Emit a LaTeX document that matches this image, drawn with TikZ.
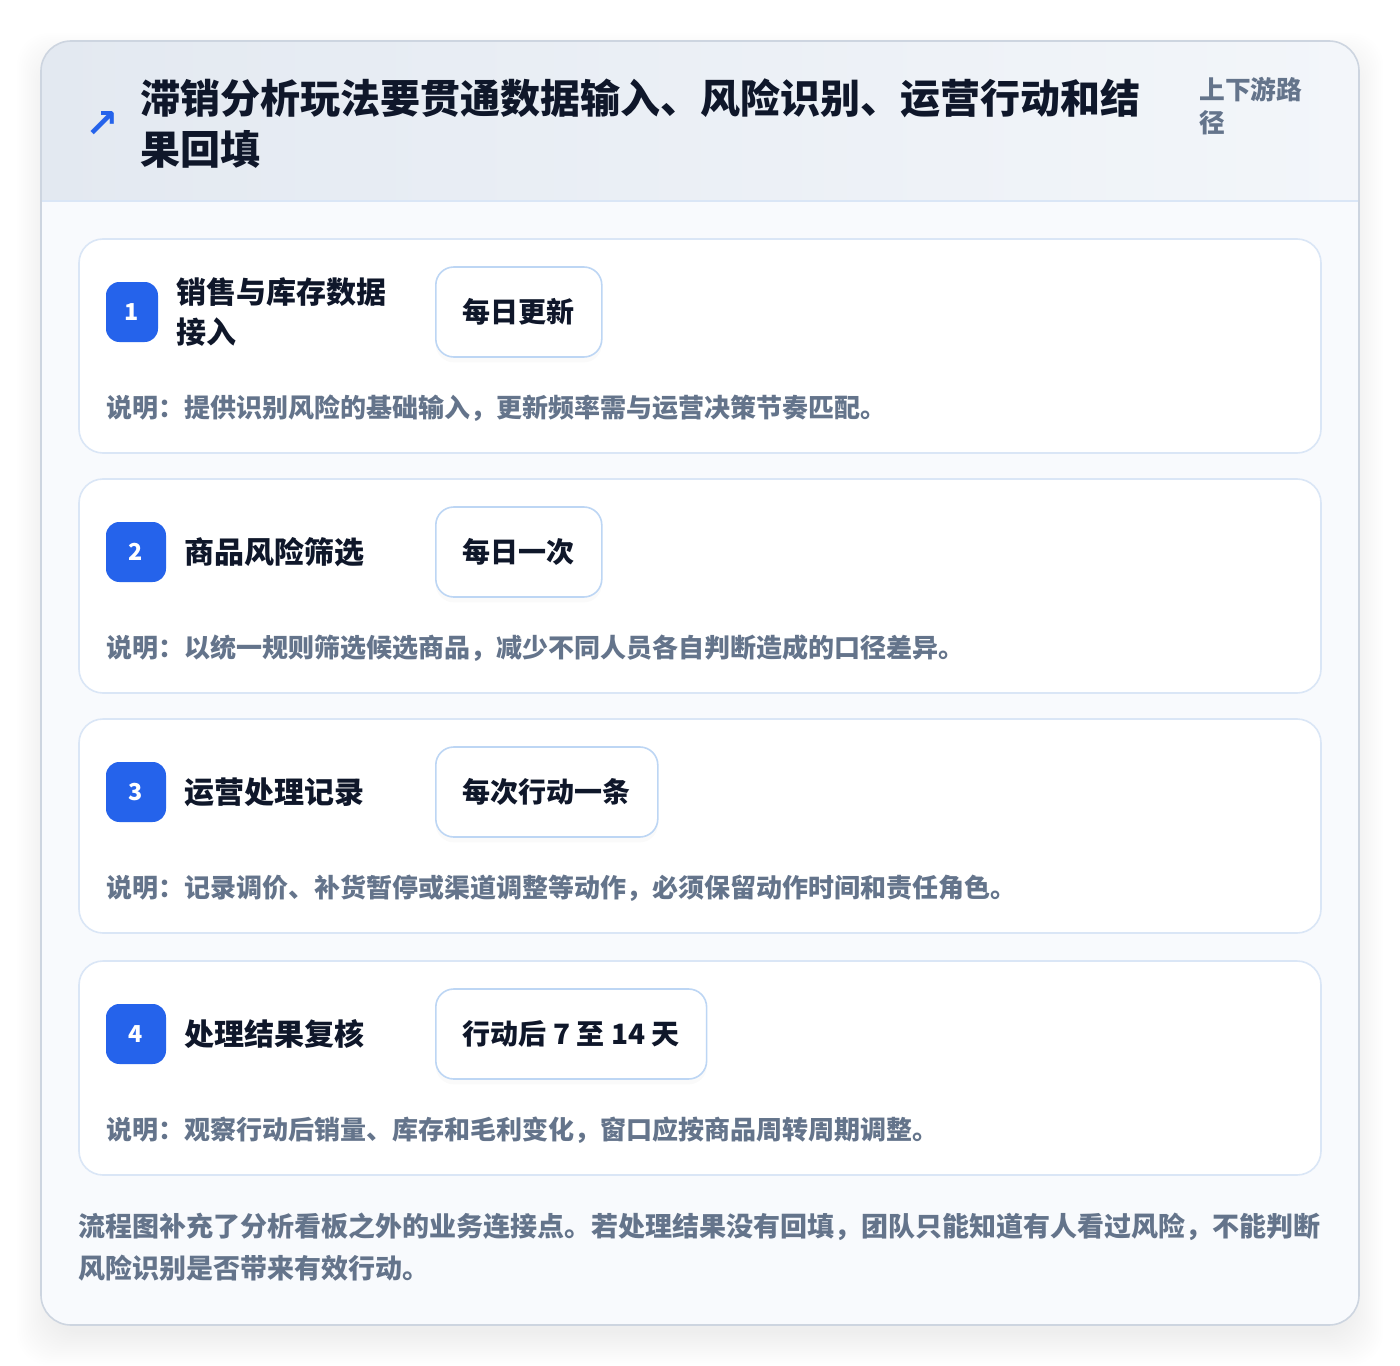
\documentclass[tikz,border=0pt]{standalone}
\usepackage{fontspec}
\setmainfont{Noto Sans CJK SC}
\newfontfamily\symfont{DejaVu Sans}
\usetikzlibrary{shadows,positioning}
\definecolor{accent}{HTML}{2563EB}
\definecolor{ink}{HTML}{0F172A}
\definecolor{muted}{HTML}{64748B}
\definecolor{cardline}{HTML}{DAE6F6}
\definecolor{tagline}{HTML}{BDD6F4}
\definecolor{frame}{HTML}{CDD5E0}
\definecolor{panel}{HTML}{F8FAFD}
\definecolor{headl}{HTML}{E3E9F1}
\definecolor{headr}{HTML}{F3F6FA}

\begin{document}
\begin{tikzpicture}[x=0.75pt, y=-0.75pt, card/.style = {shape=rectangle, draw=cardline, line width=1.2pt, fill=white, rounded corners=18pt, minimum width=931.5pt, minimum height=160.5pt}, badge/.style = {shape=rectangle, fill=accent, text=white, rounded corners=10pt, minimum height=45pt, inner sep=0pt, font=\fontsize{17.5}{17.5}\selectfont\bfseries}, steptitle/.style = {inner sep=0pt, text width=240pt, align=left, text=ink, font=\fontsize{22.5}{30}\selectfont\bfseries}, tagbox/.style = {shape=rectangle, draw=tagline, line width=1.2pt, fill=white, rounded corners=13.5pt, minimum height=67.5pt, inner xsep=20.25pt, text=ink, font=\fontsize{21}{21}\selectfont\bfseries, drop shadow={shadow xshift=0pt, shadow yshift=-4pt, opacity=0.04}}, note/.style = {anchor=west, inner sep=0pt, text=muted, font=\fontsize{19.5}{19.5}\selectfont\bfseries}]
	\fill[white] (0,0) rectangle (1400,1366);
	\useasboundingbox (0,0) rectangle (1400,1366);
	\foreach \s in {-8,-6,...,24}
		\fill[black, opacity=0.005, rounded corners=24pt] (41-\s,57-\s) rectangle (1359+\s,1341+\s);
	\fill[panel, rounded corners=22.5pt] (41,41) rectangle (1359,1325);
	\fill[left color=headl, right color=headr, rounded corners=22.5pt] (41,201) |- (1359,41) -- (1359,201);
	\draw[cardline, line width=1.5pt] (41,201) -- (1359,201);
	\draw[frame, line width=1.2pt, rounded corners=22.5pt] (41,41) rectangle (1359,1325);
	\node[text=accent, font=\symfont\fontsize{30}{30}\selectfont\bfseries] (icon) at (102,125) {↗};
	\node[anchor=base west, inner sep=0pt, text width=780pt, align=left, text=ink, font=\fontsize{30}{38}\selectfont\bfseries] (heading) at (140,114) {滞销分析玩法要贯通数据输入、风险识别、运营行动和结\\果回填};
	\node[anchor=base west, inner sep=0pt, text width=90pt, align=left, text=muted, font=\fontsize{19.3}{24.75}\selectfont\bfseries] (side) at (1199,100) {上下游路\\径};
	\foreach \i/\t/\bw/\stepname/\tagtext/\notetext in {
		1/239/52/{销售与库存数据\\接入}/每日更新/{说明：提供识别风险的基础输入，更新频率需与运营决策节奏匹配。},
		2/479/60/商品风险筛选/每日一次/{说明：以统一规则筛选候选商品，减少不同人员各自判断造成的口径差异。},
		3/719/60/运营处理记录/每次行动一条/{说明：记录调价、补货暂停或渠道调整等动作，必须保留动作时间和责任角色。},
		4/961/60/处理结果复核/行动后 7 至 14 天/{说明：观察行动后销量、库存和毛利变化，窗口应按商品周转周期调整。}}
	{
		\node[card] (card\i) at (700,\t+107) {};
		\node[badge, minimum width=\bw*0.75pt] (num\i) at (106+\bw/2,\t+73) {\i};
		\node[steptitle, right=13.5pt of num\i] (step\i) {\stepname};
		\node[tagbox, anchor=west] (tag\i) at (435,\t+73) {\tagtext};
		\node[note] (note\i) at (106,\t+169) {\notetext};
	}
	\node[anchor=base west, inner sep=0pt, text width=960pt, align=left, text=muted, font=\fontsize{20.25}{31.5}\selectfont\bfseries] (summary) at (78,1236) {流程图补充了分析看板之外的业务连接点。若处理结果没有回填，团队只能知道有人看过风险，不能判断\\风险识别是否带来有效行动。};
\end{tikzpicture}
\end{document}
